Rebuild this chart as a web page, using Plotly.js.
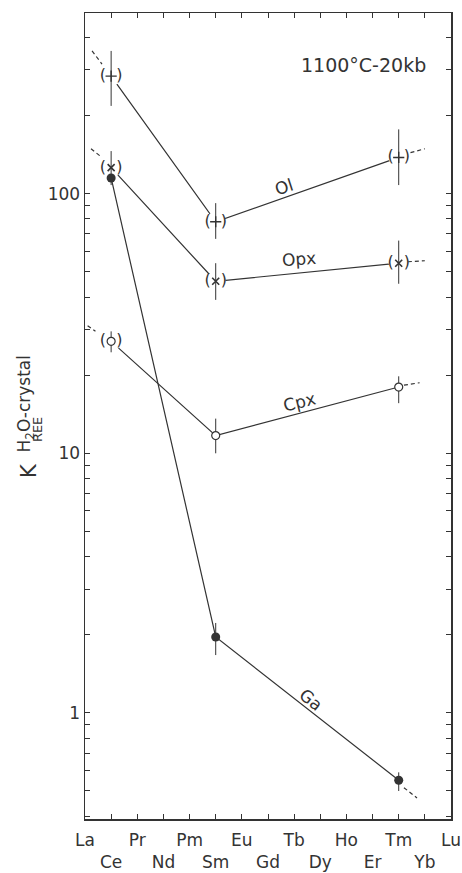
<!DOCTYPE html>
<html>
<head>
<meta charset="utf-8">
<script src="https://cdn.plot.ly/plotly-3.0.1.min.js"></script>
<style>html,body{margin:0;padding:0;background:#fff;}#chart{width:462px;height:873px;}</style>
</head>
<body>
<div id="chart"></div>
<script>
// REE element order (x axis)
const elements = ['La','Ce','Pr','Nd','Pm','Sm','Eu','Gd','Tb','Dy','Ho','Er','Tm','Yb','Lu'];
const elementRow = [0,1,0,1,0,1,0,1,0,1,0,1,0,1,0]; // 0 = upper row, 1 = lower row

// measured elements: Ce, Sm, Tm
const measuredX = [1, 5, 12];

// Partition coefficients K(H2O-crystal) REE, 1100°C - 20 kb
const olY = [284, 78, 138];
const olErrPlus = [71, 14, 39];
const olErrMinus = [66, 11, 30];

const opxY = [126, 46, 54];
const opxErrPlus = [20, 8, 12];
const opxErrMinus = [18, 7, 9];

const cpxY = [27, 11.7, 18];
const cpxErrPlus = [2.5, 1.9, 1.8];
const cpxErrMinus = [2.5, 1.7, 2.4];

const gaY = [115, 1.96, 0.55];
const gaErrPlus = [0, 0.26, 0.04];
const gaErrMinus = [0, 0.29, 0.05];

// dashed extrapolations
const olExtLeftX = [0.27, 0.65], olExtLeftY = [355, 316];
const olExtRightX = [12.45, 13.0], olExtRightY = [144, 149];
const opxExtLeftX = [0.23, 0.65], opxExtLeftY = [149, 138];
const opxExtRightX = [12.35, 13.0], opxExtRightY = [54.7, 55.2];
const cpxExtLeftX = [0.1, 0.4], cpxExtLeftY = [31, 29.5];
const cpxExtRightX = [12.2, 12.8], cpxExtRightY = [18.3, 18.7];
const gaExtRightX = [12.2, 12.7], gaExtRightY = [0.515, 0.47];

// y axis ticks
const yTickVals = [0.4,0.5,0.6,0.7,0.8,0.9,1,2,3,4,5,6,7,8,9,10,20,30,40,50,60,70,80,90,100,200,300,400];
const yTickLabels = {1:'1', 10:'10', 100:'100'};

const ink = '#333333';
const FONT = 'DejaVu Sans, sans-serif';

function lineTrace(x, y, dash) {
  return {x: x, y: y, mode: 'lines', line: {color: ink, width: 1.2, dash: dash || 'solid'}, hoverinfo: 'skip'};
}

const traces = [];
traces.push(lineTrace(measuredX, olY));
traces.push(lineTrace(measuredX, opxY));
traces.push(lineTrace(measuredX, cpxY));
traces.push(lineTrace(measuredX, gaY));
[[olExtLeftX, olExtLeftY],[olExtRightX, olExtRightY],[opxExtLeftX, opxExtLeftY],[opxExtRightX, opxExtRightY],
 [cpxExtLeftX, cpxExtLeftY],[cpxExtRightX, cpxExtRightY],[gaExtRightX, gaExtRightY]].forEach(function(p){
  traces.push({x: p[0], y: p[1], mode: 'lines', line: {color: ink, width: 1.2, dash: '4px,3px'}, hoverinfo: 'skip'});
});

// white masks so the lines stop at the bracketed symbols
const maskX = measuredX.concat(measuredX).concat([measuredX[0]]);
const maskY = olY.concat(opxY).concat([cpxY[0]]);
traces.push({x: maskX, y: maskY, mode: 'markers', marker: {symbol: 'circle', size: 20, color: '#ffffff', line: {width: 0}}, hoverinfo: 'skip'});

function errObj(plus, minus) {
  return {type: 'data', symmetric: false, array: plus, arrayminus: minus, width: 0, thickness: 1, color: ink};
}
traces.push({x: measuredX, y: olY, mode: 'markers', error_y: errObj(olErrPlus, olErrMinus),
  marker: {symbol: 'cross-thin-open', size: 8, color: ink, line: {color: ink, width: 1.4}}});
traces.push({x: measuredX, y: opxY, mode: 'markers', error_y: errObj(opxErrPlus, opxErrMinus),
  marker: {symbol: 'x-thin-open', size: 7, color: ink, line: {color: ink, width: 1.6}}});
traces.push({x: measuredX, y: cpxY, mode: 'markers', error_y: errObj(cpxErrPlus, cpxErrMinus),
  marker: {symbol: 'circle', size: 8, color: '#ffffff', line: {color: ink, width: 1.2}}});
traces.push({x: measuredX, y: gaY, mode: 'markers', error_y: errObj(gaErrPlus, gaErrMinus),
  marker: {symbol: 'circle', size: 9, color: ink, line: {width: 0}}});

// brackets around tentative values
const parenX = measuredX.concat(measuredX).concat([measuredX[0]]);
const parenY = olY.concat(opxY).concat([cpxY[0]]);
traces.push({x: parenX, y: parenY, mode: 'text', text: parenX.map(function(){return '(\u00a0\u00a0)';}),
  textposition: 'middle center', textfont: {family: FONT, size: 16, color: ink}, hoverinfo: 'skip'});

const xTickText = elements.map(function(e, i){ return elementRow[i] === 0 ? e : '\u00a0<br>' + e; });

const layout = {
  width: 462, height: 873,
  margin: {l: 85, r: 11, t: 13, b: 54},
  paper_bgcolor: '#ffffff', plot_bgcolor: '#ffffff',
  showlegend: false, hovermode: false,
  font: {family: FONT, color: ink},
  xaxis: {
    range: [0, 14], tickmode: 'array', tickvals: elements.map(function(e,i){return i;}), ticktext: xTickText,
    tickangle: 0, ticklabelstandoff: 5,
    ticks: 'inside', ticklen: 5, tickwidth: 1, tickcolor: ink, mirror: 'allticks',
    showline: true, linecolor: ink, linewidth: 1.5, showgrid: false, zeroline: false,
    tickfont: {family: FONT, size: 17, color: ink}
  },
  yaxis: {
    type: 'log', range: [Math.log10(0.39), Math.log10(497)],
    tickmode: 'array', tickvals: yTickVals, ticktext: yTickVals.map(function(v){return yTickLabels[v] || '';}),
    ticks: 'inside', ticklen: 5, tickwidth: 1, tickcolor: ink, mirror: 'allticks',
    showline: true, linecolor: ink, linewidth: 1.5, showgrid: false, zeroline: false,
    tickfont: {family: FONT, size: 17, color: ink}
  },
  annotations: [
    {xref: 'paper', yref: 'paper', x: 0.76, y: 0.935, xanchor: 'center', yanchor: 'middle', text: '1100°C-20kb', showarrow: false,
      font: {family: FONT, size: 19, color: ink}},
    {xref: 'x', yref: 'y', x: 7.6, y: Math.log10(106), xanchor: 'center', yanchor: 'middle', text: 'Ol', showarrow: false, textangle: -18,
      font: {family: FONT, size: 17, color: ink}},
    {xref: 'x', yref: 'y', x: 8.2, y: Math.log10(56), xanchor: 'center', yanchor: 'middle', text: 'Opx', showarrow: false, textangle: -4,
      font: {family: FONT, size: 17, color: ink}},
    {xref: 'x', yref: 'y', x: 8.2, y: Math.log10(15.8), xanchor: 'center', yanchor: 'middle', text: 'Cpx', showarrow: false, textangle: -14,
      font: {family: FONT, size: 17, color: ink}},
    {xref: 'x', yref: 'y', x: 8.66, y: Math.log10(1.12), xanchor: 'center', yanchor: 'middle', text: 'Ga', showarrow: false, textangle: 39,
      font: {family: FONT, size: 17, color: ink}},
    // y axis title K^{H2O-crystal}_{REE}
    {xref: 'paper', yref: 'paper', x: -0.1516, y: 0.4324, xanchor: 'center', yanchor: 'middle', text: 'K', showarrow: false, textangle: -90,
      font: {family: FONT, size: 21, color: ink}},
    {xref: 'paper', yref: 'paper', x: -0.160, y: 0.5149, xanchor: 'center', yanchor: 'middle', text: 'H<sub>2</sub>O-crystal', showarrow: false, textangle: -90,
      font: {family: FONT, size: 17, color: ink}},
    {xref: 'paper', yref: 'paper', x: -0.130, y: 0.4830, xanchor: 'center', yanchor: 'middle', text: 'REE', showarrow: false, textangle: -90,
      font: {family: FONT, size: 13, color: ink}}
  ]
};

Plotly.newPlot('chart', traces, layout, {staticPlot: true, displayModeBar: false});
</script>
</body>
</html>
